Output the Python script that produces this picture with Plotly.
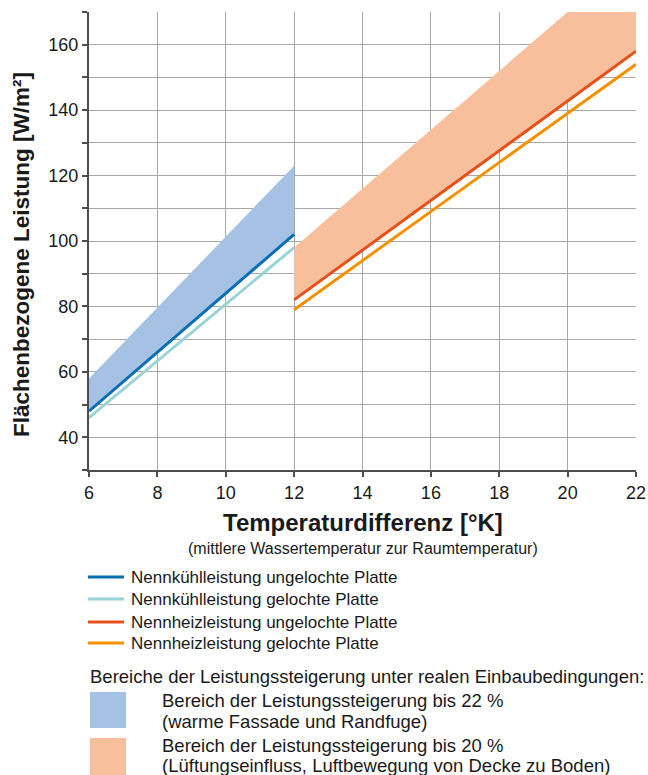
import plotly.graph_objects as go

# ---- data ----
x_cool = [6, 12]
cool_unperforated = [48, 102]
cool_perforated = [46, 98]
cool_band_upper = [58, 123]

x_heat = [12, 22]
heat_unperforated = [82, 158]
heat_perforated = [79, 154]
heat_band_upper = [98, 188]

x_ticks = [6, 8, 10, 12, 14, 16, 18, 20, 22]
y_ticks = [40, 60, 80, 100, 120, 140, 160]
y_minor_ticks = [30, 50, 70, 90, 110, 130, 150, 170]

legend_lines = [
    "Nennkühlleistung ungelochte Platte",
    "Nennkühlleistung gelochte Platte",
    "Nennheizleistung ungelochte Platte",
    "Nennheizleistung gelochte Platte",
]
legend_head = "Bereiche der Leistungssteigerung unter realen Einbaubedingungen:"
band_texts = [
    ("Bereich der Leistungssteigerung bis 22 %", "(warme Fassade und Randfuge)"),
    ("Bereich der Leistungssteigerung bis 20 %", "(Lüftungseinfluss, Luftbewegung von Decke zu Boden)"),
]

C_DBLUE = "#0b6db3"
C_TEAL = "#9ad4d6"
C_RED = "#e6501b"
C_ORANGE = "#f39200"
C_BBAND = "#a5c2e5"
C_OBAND = "#f8bf9c"
C_TEXT = "#1a1a1a"
FONT = "Liberation Sans, Arial, sans-serif"

W, H = 648, 775
L, R, T, B = 89, 12, 12, 305
PW, PH = W - L - R, H - T - B


def px(x):
    return (x - L) / PW


def py(y):
    return (H - B - y) / PH


fig = go.Figure()

# bands
fig.add_trace(go.Scatter(x=x_cool, y=cool_unperforated, mode="lines",
                         line=dict(width=0, color=C_BBAND), showlegend=False, hoverinfo="skip"))
fig.add_trace(go.Scatter(x=x_cool, y=cool_band_upper, mode="lines", fill="tonexty",
                         fillcolor=C_BBAND, line=dict(width=0, color=C_BBAND),
                         showlegend=False, hoverinfo="skip"))
fig.add_trace(go.Scatter(x=x_heat, y=heat_unperforated, mode="lines",
                         line=dict(width=0, color=C_OBAND), showlegend=False, hoverinfo="skip"))
fig.add_trace(go.Scatter(x=x_heat, y=heat_band_upper, mode="lines", fill="tonexty",
                         fillcolor=C_OBAND, line=dict(width=0, color=C_OBAND),
                         showlegend=False, hoverinfo="skip"))

# lines
for xs, ys, c in [(x_cool, cool_perforated, C_TEAL), (x_cool, cool_unperforated, C_DBLUE),
                  (x_heat, heat_perforated, C_ORANGE), (x_heat, heat_unperforated, C_RED)]:
    fig.add_trace(go.Scatter(x=xs, y=ys, mode="lines", line=dict(width=3, color=c),
                             showlegend=False))

shapes = []
annotations = []

# axis titles
annotations.append(dict(x=px(22), y=py(255), xref="paper", yref="paper", textangle=-90,
                        text="<b>Flächenbezogene Leistung [W/m²]</b>", showarrow=False,
                        font=dict(size=22.5, color=C_TEXT, family=FONT),
                        xanchor="center", yanchor="middle"))
annotations.append(dict(x=0.5, y=py(522), xref="paper", yref="paper",
                        text="<b>Temperaturdifferenz [°K]</b>", showarrow=False,
                        font=dict(size=24, color=C_TEXT, family=FONT),
                        xanchor="center", yanchor="middle"))
annotations.append(dict(x=0.5, y=py(548), xref="paper", yref="paper",
                        text="(mittlere Wassertemperatur zur Raumtemperatur)", showarrow=False,
                        font=dict(size=16, color=C_TEXT, family=FONT),
                        xanchor="center", yanchor="middle"))

# line legend
leg_y = [577, 599, 622, 643]
for txt, c, yy in zip(legend_lines, [C_DBLUE, C_TEAL, C_RED, C_ORANGE], leg_y):
    shapes.append(dict(type="line", xref="paper", yref="paper", x0=px(88), x1=px(124),
                       y0=py(yy), y1=py(yy), line=dict(color=c, width=3)))
    annotations.append(dict(x=px(129), y=py(yy), xref="paper", yref="paper", text=txt,
                            showarrow=False, xanchor="left", yanchor="middle",
                            font=dict(size=17, color=C_TEXT, family=FONT)))

annotations.append(dict(x=px(88), y=py(676), xref="paper", yref="paper", text=legend_head,
                        showarrow=False, xanchor="left", yanchor="middle",
                        font=dict(size=18.5, color=C_TEXT, family=FONT)))

sq = [(C_BBAND, 692, 728, 700, 721), (C_OBAND, 738, 776, 745, 765)]
for (c, y0, y1, t1, t2), (s1, s2) in zip(sq, band_texts):
    shapes.append(dict(type="rect", xref="paper", yref="paper", x0=px(90), x1=px(126),
                       y0=py(y0), y1=py(y1), fillcolor=c, line=dict(width=0)))
    annotations.append(dict(x=px(160), y=py(t1), xref="paper", yref="paper", text=s1,
                            showarrow=False, xanchor="left", yanchor="middle",
                            font=dict(size=18.5, color=C_TEXT, family=FONT)))
    annotations.append(dict(x=px(160), y=py(t2), xref="paper", yref="paper", text=s2,
                            showarrow=False, xanchor="left", yanchor="middle",
                            font=dict(size=18.5, color=C_TEXT, family=FONT)))

fig.update_layout(
    width=W, height=H,
    margin=dict(l=L, r=R, t=T, b=B, autoexpand=False),
    paper_bgcolor="white", plot_bgcolor="white",
    showlegend=False,
    shapes=shapes, annotations=annotations,
    font=dict(family=FONT, color=C_TEXT),
    xaxis=dict(range=[6, 22], tickvals=x_ticks, ticks="outside", ticklen=5, tickwidth=2,
               tickcolor="#4d4d4d", showline=True, linecolor="#4d4d4d", linewidth=2,
               showgrid=True, gridcolor="#a8a8a8", gridwidth=1, zeroline=False,
               tickfont=dict(size=18, color=C_TEXT), fixedrange=True),
    yaxis=dict(range=[30, 170], tickvals=y_ticks, ticks="outside", ticklen=5, tickwidth=2,
               tickcolor="#4d4d4d", showline=True, linecolor="#4d4d4d", linewidth=2,
               showgrid=True, gridcolor="#a8a8a8", gridwidth=1, zeroline=False,
               tickfont=dict(size=18, color=C_TEXT),
               minor=dict(tickvals=y_minor_ticks, ticks="outside",
                          ticklen=5, tickwidth=2, tickcolor="#4d4d4d", showgrid=True,
                          gridcolor="#a8a8a8", gridwidth=1),
               fixedrange=True),
)

# remove the default 8px page margin so the figure fills the window exactly
fig.write_html("out.html", config={"displayModeBar": False},
               post_script="document.body.style.margin='0';document.body.style.overflow='hidden';")
